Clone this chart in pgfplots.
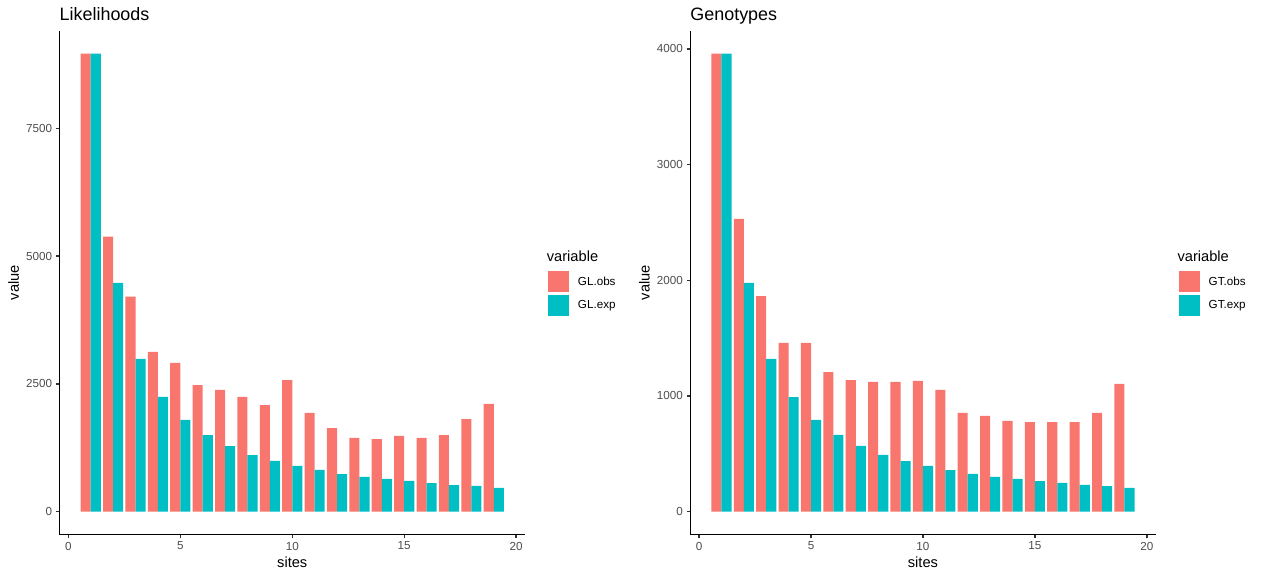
\documentclass[border=0pt]{standalone}
\usepackage{pgfplots}
\pgfplotsset{compat=1.18}
\usepackage{pgfplotstable}
\usepackage{fontspec}
\setmainfont{Liberation Sans}

\definecolor{obscol}{HTML}{F8766D}
\definecolor{expcol}{HTML}{00BFC4}
\definecolor{grey30}{HTML}{4D4D4D}
\definecolor{grey20}{HTML}{333333}

% genotype likelihood counts per site
\pgfplotstableread{
site obs exp
1  8959 8959
2  5380 4474
3  4206 2987
4  3124 2244
5  2909 1794
6  2478 1500
7  2381 1285
8  2244 1109
9  2087 992
10 2576 894
11 1931 816
12 1637 737
13 1442 679
14 1422 640
15 1481 601
16 1442 561
17 1500 522
18 1813 503
19 2107 464
}\gltable

% called genotype counts per site
\pgfplotstableread{
site obs exp
1  3958 3958
2  2530 1977
3  1864 1320
4  1458 991
5  1458 793
6  1207 663
7  1138 568
8  1121 490
9  1121 438
10 1130 395
11 1052 360
12 853  326
13 827  300
14 784  283
15 775  265
16 775  248
17 775  231
18 853  222
19 1104 205
}\gttable

\pgfplotsset{
  ggpanel/.style={
    scale only axis, width=465.5bp, height=503.8bp,
    anchor=south west,
    axis x line*=bottom, axis y line*=left,
    axis line style={black, line width=1.4bp},
    tick align=outside, major tick length=3.7bp,
    every tick/.style={grey20, line width=1.4bp},
    xmin=-0.395, xmax=20.395,
    xtick={0,5,10,15,20},
    ticklabel style={font=\fontsize{11.7}{13}\selectfont, text=grey30, inner sep=0pt},
    xticklabel style={anchor=north, yshift=-3.4bp},
    yticklabel style={anchor=east, xshift=-3.5bp},
    /pgf/number format/assume math mode=true,
    /pgf/number format/set thousands separator={},
    xlabel={sites}, ylabel={value},
    every axis x label/.style={at={(axis description cs:0.5,0)}, anchor=base, yshift=-32.4bp,
      font=\fontsize{14.7}{16}\selectfont, inner sep=0pt},
    every axis y label/.style={at={(axis description cs:-0.0985,0.5)}, anchor=center, rotate=90,
      font=\fontsize{14.7}{16}\selectfont, inner sep=0pt},
    title style={at={(axis description cs:0,1)}, anchor=base west, yshift=4.3bp,
      font=\fontsize{18}{20}\selectfont, inner sep=0pt},
    legend image code/.code={\path[#1, draw=none] (0bp,-10.6bp) rectangle (20.8bp,10.6bp);},
    legend style={draw=none, fill=none, at={(axis description cs:1.0494,0.5232)}, anchor=north west,
      inner sep=0pt, outer sep=0pt, row sep=2.3bp, column sep=0bp,
      font=\fontsize{11.7}{13}\selectfont, nodes={inner xsep=9.2bp, inner ysep=0pt}},
    legend cell align=left,
    clip=false,
  },
  obsbar/.style={ybar, bar width=0.45, bar shift=-0.225, fill=obscol, draw=none},
  expbar/.style={ybar, bar width=0.45, bar shift=0.225, fill=expcol, draw=none},
}

\begin{document}
\begin{tikzpicture}
\path[use as bounding box] (0,0) rectangle (1262bp,578bp);

\begin{axis}[ggpanel, at={(59.5bp,43.4bp)},
  ymin=-448, ymax=9407, ytick={0,2500,5000,7500},
  title={Likelihoods}]
  \addplot[obsbar] table[x=site, y=obs] {\gltable};
  \addplot[expbar] table[x=site, y=exp] {\gltable};
  \legend{GL.obs, GL.exp}
  \node[anchor=base west, inner sep=0pt, font=\fontsize{14.7}{16}\selectfont]
    at (axis description cs:1.0466,0.5417) {variable};
\end{axis}

\begin{axis}[ggpanel, at={(690.2bp,43.4bp)},
  ymin=-198, ymax=4156, ytick={0,1000,2000,3000,4000},
  title={Genotypes}]
  \addplot[obsbar] table[x=site, y=obs] {\gttable};
  \addplot[expbar] table[x=site, y=exp] {\gttable};
  \legend{GT.obs, GT.exp}
  \node[anchor=base west, inner sep=0pt, font=\fontsize{14.7}{16}\selectfont]
    at (axis description cs:1.0466,0.5417) {variable};
\end{axis}
\end{tikzpicture}
\end{document}
